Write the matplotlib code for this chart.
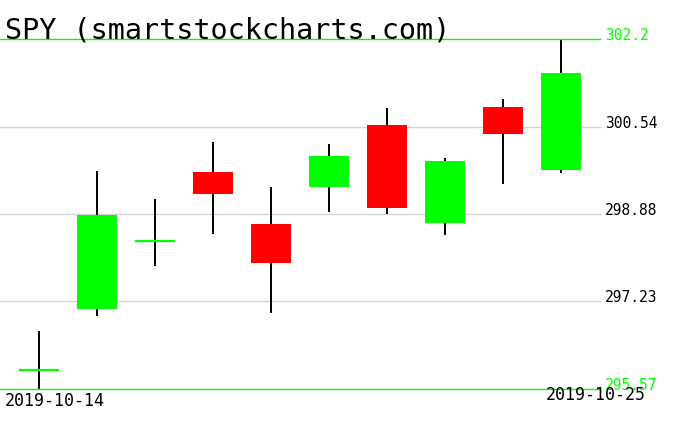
import numpy as np
import matplotlib
matplotlib.use('Agg')
import matplotlib.pyplot as plt
import matplotlib.transforms as mtransforms

# SPY daily candles, 2019-10-14 .. 2019-10-25
dates = ['2019-10-14', '2019-10-15', '2019-10-16', '2019-10-17', '2019-10-18',
         '2019-10-21', '2019-10-22', '2019-10-23', '2019-10-24', '2019-10-25']
opens = [295.93, 297.09, 298.37, 299.68, 298.70, 299.40, 300.57, 298.71, 300.91, 299.72]
highs = [296.67, 299.70, 299.17, 300.25, 299.40, 300.21, 300.89, 299.95, 301.06, 302.20]
lows = [295.57, 296.95, 297.90, 298.51, 297.01, 298.92, 298.89, 298.49, 299.45, 299.66]
closes = [295.93, 298.87, 298.37, 299.26, 297.96, 299.98, 299.00, 299.89, 300.40, 301.56]

level_values = [302.2, 300.54, 298.88, 297.23, 295.57]
level_labels = ['302.2', '300.54', '298.88', '297.23', '295.57']

GREEN = '#00ff00'
RED = '#ff0000'

W, H = 676, 431
fig = plt.figure(figsize=(W / 100, H / 100), dpi=100)
ax = fig.add_axes([0, 0, 1, 1])

# pixel layout: top level at y=40, bottom level at y=390, candles every 58px from x=39
ppd = 350 / (level_values[0] - level_values[-1])
ax.set_ylim(level_values[-1] - (H - 390) / ppd, level_values[0] + 40 / ppd)
ax.set_xlim(-39 / 58, (W - 39) / 58)
ax.axis('off')

# horizontal levels
line_end = 600 / W
for i, v in enumerate(level_values):
    edge = i == 0 or i == len(level_values) - 1
    ax.axhline(v, xmin=0, xmax=line_end, color=GREEN if edge else '#d3d3d3',
               lw=1.0, zorder=1 if not edge else 4)

trans = mtransforms.blended_transform_factory(ax.transAxes, ax.transData)
for i, (v, lab) in enumerate(zip(level_values, level_labels)):
    edge = i == 0 or i == len(level_values) - 1
    ax.text(605 / W, v, lab, transform=trans, color=GREEN if edge else 'black',
            fontsize=10.5, family='DejaVu Sans Mono', va='baseline', ha='left')

# candles
x = np.arange(len(dates))
body_w = 40 / 58
ax.vlines(x, lows, highs, color='black', lw=1.4, zorder=2)
for xi, o, c in zip(x, opens, closes):
    if abs(c - o) < 0.02:
        ax.hlines(o, xi - body_w / 2, xi + body_w / 2, color=GREEN, lw=1.6, zorder=3)
    else:
        col = GREEN if c > o else RED
        ax.bar(xi, abs(c - o), bottom=min(o, c), width=body_w, color=col,
               edgecolor='none', zorder=3)

# title and dates
fig.text(5 / W, 1 - 38 / H, 'SPY (smartstockcharts.com)', fontsize=20.5,
         color='black', family='DejaVu Sans Mono', va='baseline', ha='left')
fig.text(5 / W, 1 - 401 / H, dates[0], fontsize=12, family='DejaVu Sans Mono',
         va='center', ha='left')
fig.text(646 / W, 1 - 395 / H, dates[-1], fontsize=12, family='DejaVu Sans Mono',
         va='center', ha='right')

fig.savefig('out.png', dpi=100, facecolor='white')
